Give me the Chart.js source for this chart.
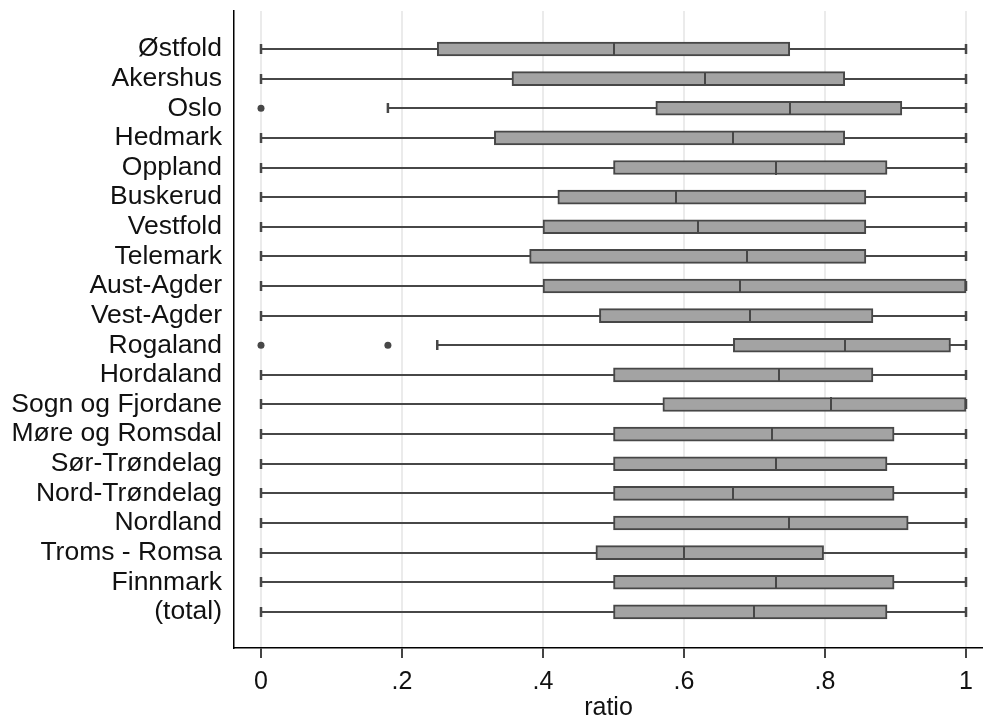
<!DOCTYPE html>
<html><head><meta charset="utf-8">
<script src="https://cdn.jsdelivr.net/npm/chart.js@4"></script>
<style>html,body{margin:0;padding:0;background:#fff;}#wrap{width:983px;height:722px;position:relative;}</style>
</head><body><div id="wrap"><canvas id="c" width="983" height="722"></canvas></div>
<script>
const categories = ['Østfold','Akershus','Oslo','Hedmark','Oppland','Buskerud','Vestfold','Telemark','Aust-Agder','Vest-Agder','Rogaland','Hordaland','Sogn og Fjordane','Møre og Romsdal','Sør-Trøndelag','Nord-Trøndelag','Nordland','Troms - Romsa','Finnmark','(total)'];
const whiskerLow  = [0,0,0.18,0,0,0,0,0,0,0,0.25,0,0,0,0,0,0,0,0,0];
const q1          = [0.25,0.356,0.56,0.331,0.5,0.421,0.4,0.381,0.4,0.48,0.67,0.5,0.57,0.5,0.5,0.5,0.5,0.475,0.5,0.5];
const median      = [0.5,0.63,0.75,0.669,0.73,0.589,0.62,0.689,0.679,0.694,0.829,0.735,0.809,0.725,0.73,0.669,0.749,0.6,0.73,0.699];
const q3          = [0.75,0.828,0.909,0.828,0.888,0.858,0.858,0.858,1.0,0.868,0.978,0.868,1.0,0.898,0.888,0.898,0.918,0.798,0.898,0.888];
const whiskerHigh = [1,1,1,1,1,1,1,1,1,1,1,1,1,1,1,1,1,1,1,1];
const outlierCategory = ['Oslo','Rogaland','Rogaland'];
const outlierValue    = [0,0,0.18];
const xTickValues = [0,0.2,0.4,0.6,0.8,1];
const xTickLabels = ['0','.2','.4','.6','.8','1'];
const xTitle = 'ratio';

const FONT = "'Liberation Sans', Arial, sans-serif";
const rowIndex = categories.map((_, i) => i + 1);
const DARK = '#474747';

const boxParts = {
  id: 'boxParts',
  beforeDatasetsDraw(chart) {
    const {ctx, scales: {x, y}} = chart;
    ctx.save();
    ctx.strokeStyle = DARK;
    rowIndex.forEach((r, i) => {
      const py = Math.round(y.getPixelForValue(r));
      ctx.lineWidth = 2;
      ctx.beginPath();
      ctx.moveTo(x.getPixelForValue(whiskerLow[i]), py);
      ctx.lineTo(x.getPixelForValue(whiskerHigh[i]), py);
      ctx.stroke();
      ctx.lineWidth = 2.5;
      [whiskerLow[i], whiskerHigh[i]].forEach(v => {
        const px = x.getPixelForValue(v);
        ctx.beginPath();
        ctx.moveTo(px, py - 5);
        ctx.lineTo(px, py + 5);
        ctx.stroke();
      });
    });
    ctx.restore();
  },
  afterDatasetsDraw(chart) {
    const {ctx, scales: {x, y}} = chart;
    ctx.save();
    ctx.strokeStyle = DARK;
    ctx.lineWidth = 2;
    rowIndex.forEach((r, i) => {
      const py = Math.round(y.getPixelForValue(r));
      const px = Math.round(x.getPixelForValue(median[i]));
      ctx.beginPath();
      ctx.moveTo(px, py - 7);
      ctx.lineTo(px, py + 7);
      ctx.stroke();
    });
    ctx.restore();
  }
};

new Chart(document.getElementById('c'), {
  type: 'bar',
  data: {
    datasets: [
      {
        type: 'bar',
        data: rowIndex.map((r, i) => ({x: [q1[i], q3[i]], y: r})),
        backgroundColor: '#a3a3a3',
        borderColor: DARK,
        borderWidth: 2,
        borderSkipped: false,
        barThickness: 14
      },
      {
        type: 'scatter',
        data: outlierCategory.map((c, i) => ({x: outlierValue[i], y: categories.indexOf(c) + 1})),
        backgroundColor: DARK,
        borderWidth: 0,
        pointRadius: 3.5
      }
    ]
  },
  options: {
    indexAxis: 'y',
    responsive: false,
    animation: false,
    layout: {autoPadding: false, padding: {top: 11, right: 0, bottom: 0, left: 0}},
    plugins: {legend: {display: false}, tooltip: {enabled: false}},
    scales: {
      x: {
        type: 'linear', position: 'bottom', min: -0.0383, max: 1.0241, offset: false,
        afterBuildTicks: s => { s.ticks = xTickValues.map(v => ({value: v})); },
        afterFit: s => { s.height = 74; s.paddingLeft = 0; s.paddingRight = 0; },
        ticks: {
          autoSkip: false, maxRotation: 0, padding: 9, color: '#111',
          font: {family: FONT, size: 25},
          callback: v => xTickLabels[xTickValues.indexOf(v)]
        },
        grid: {color: '#ebebeb', lineWidth: 2, drawTicks: true, tickLength: 10, tickColor: '#444', tickWidth: 2, offset: false},
        border: {display: true, color: '#000', width: 1.5},
        title: {display: true, text: xTitle, color: '#111', font: {family: FONT, size: 25, lineHeight: 1.2}, padding: {top: 0, bottom: -1}}
      },
      y: {
        type: 'linear', reverse: true, min: -0.283, max: 21.22, offset: false,
        afterBuildTicks: s => { s.ticks = rowIndex.map(v => ({value: v})); },
        afterFit: s => { s.width = 234; s.paddingTop = 0; s.paddingBottom = 0; },
        ticks: {
          autoSkip: false, padding: 12, color: '#111',
          font: {family: FONT, size: 26.5},
          callback: v => categories[v - 1]
        },
        grid: {display: false, drawTicks: false, tickLength: 0, offset: false},
        border: {display: true, color: '#000', width: 1.5}
      }
    }
  },
  plugins: [boxParts]
});
</script></body></html>
